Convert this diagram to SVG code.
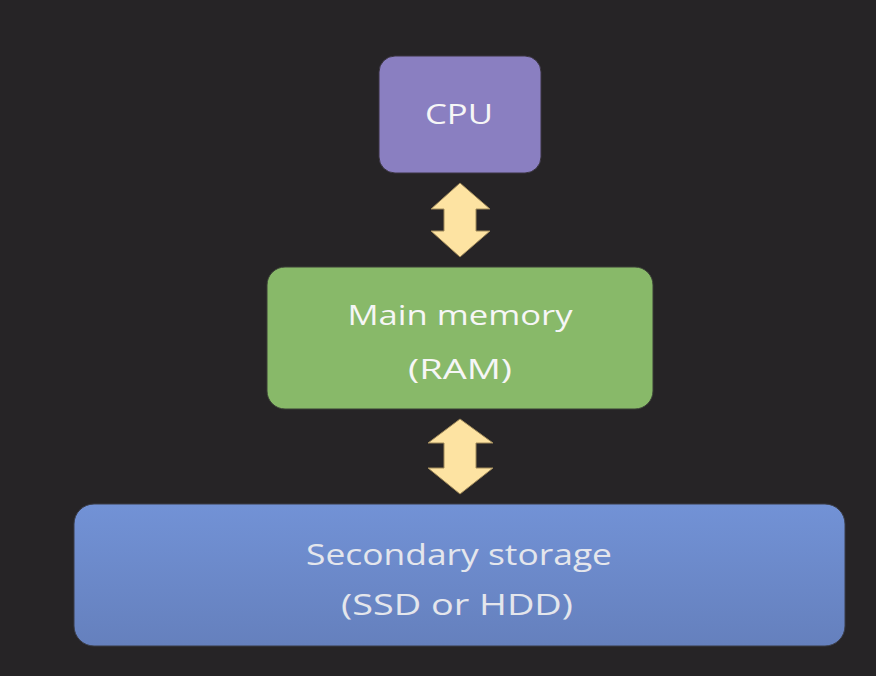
<svg xmlns="http://www.w3.org/2000/svg" width="876" height="676" viewBox="0 0 876 676">
<style>
.lbl{font-family:"Open Sans","Noto Sans",sans-serif;text-anchor:middle;fill:#f6f6f6}
.lbl2{font-family:"Open Sans","Noto Sans",sans-serif;text-anchor:middle;fill:#e4e6ec}
.arrow{fill:#fde3a2;stroke:#a08a5a;stroke-width:1}
</style>
<defs>
<linearGradient id="gBlue" x1="0" y1="0" x2="0" y2="1">
<stop offset="0" stop-color="#7292d6"/>
<stop offset="1" stop-color="#6580bd"/>
</linearGradient>
</defs>
<rect width="876" height="676" fill="#262426"/>
<g id="cpu">
<rect x="379" y="56" width="162" height="117" rx="16" fill="#8a7fc1" stroke="#3a3540" stroke-width="1"/>
<text class="lbl" x="459" y="124" font-size="28" textLength="68" lengthAdjust="spacingAndGlyphs">CPU</text>
</g>
<g id="ram">
<rect x="267" y="267" width="386" height="142" rx="18" fill="#88b969" stroke="#3a3f36" stroke-width="1"/>
<text class="lbl" x="460" y="325" font-size="28" textLength="225" lengthAdjust="spacingAndGlyphs">Main memory</text>
<text class="lbl" x="460" y="379" font-size="28" textLength="104" lengthAdjust="spacingAndGlyphs">(RAM)</text>
</g>
<g id="storage">
<rect x="74" y="504" width="771" height="142" rx="20" fill="url(#gBlue)" stroke="#3a3d48" stroke-width="1"/>
<text class="lbl2" x="459" y="565" font-size="30" textLength="306" lengthAdjust="spacingAndGlyphs">Secondary storage</text>
<text class="lbl2" x="457" y="615" font-size="30" textLength="232" lengthAdjust="spacingAndGlyphs">(SSD or HDD)</text>
</g>
<g id="connectors">
<polygon class="arrow" points="460,183 490,209 476,209 476,231 490,231 460,257 431,231 444,231 444,209 431,209"/>
<polygon class="arrow" points="460,419 493,443 476,443 476,468 493,468 460,494 428,468 444,468 444,443 428,443"/>
</g>
</svg>
